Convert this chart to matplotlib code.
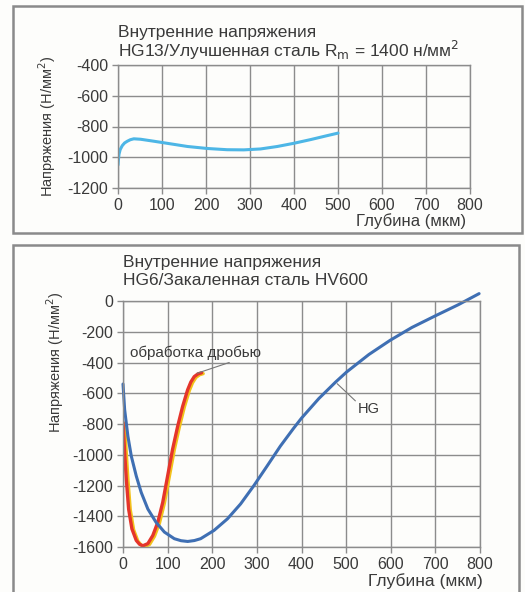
import matplotlib.pyplot as plt
import matplotlib.patheffects as pe
from matplotlib.patches import Rectangle

plt.rcParams['font.family'] = ['Liberation Sans', 'DejaVu Sans']
plt.rcParams['axes.unicode_minus'] = False

# Top chart: HG13 / improved steel
top_depth = [0, 1, 2.3, 5, 9.8, 15, 21, 28, 36, 51.5, 82, 120, 158, 203, 248, 286, 324, 362, 400, 438, 476, 500]
top_stress = [-1050, -1015, -980, -950, -924, -907, -896, -886, -880, -883, -896, -913, -930, -943, -951,
              -952, -946, -930, -909, -885, -859, -843]

# Bottom chart: HG6 / hardened steel
hg_depth = [0, 3.7, 11, 18.6, 29.7, 40.8, 55.7, 74, 92.8, 115, 130, 145, 160, 174, 204, 234, 263.5, 293,
            323, 352.6, 382, 400, 439, 476.5, 501, 551, 599, 647.5, 699.5, 751.5, 798]
hg_stress = [-540, -707, -880, -1009, -1138, -1245, -1353, -1439, -1503, -1546, -1559, -1564, -1558,
             -1546, -1492, -1417, -1320, -1202, -1073, -944, -829, -762, -634, -527, -462, -348, -255,
             -172, -97, -24, 48]

shot_depth = [0, 3.7, 7.4, 12.6, 20, 29.7, 37, 44.5, 55.7, 66.8, 78, 89, 100, 111, 122.5, 133.6, 144.8,
              152, 159.6, 168, 176]
shot_stress = [-790, -987, -1159, -1353, -1482, -1557, -1582, -1592, -1578, -1525, -1439, -1310, -1138,
               -966, -815, -686, -578, -527, -492, -474, -467]

x_ticks = [0, 100, 200, 300, 400, 500, 600, 700, 800]
top_yticks = [-400, -600, -800, -1000, -1200]
bot_yticks = [0, -200, -400, -600, -800, -1000, -1200, -1400, -1600]

W, H = 525, 592
grid_col = '#8c8c8c'
text_col = '#3a3a3a'
fs = 11.5


def fx(px):
    return px / W


def fy(py):
    return 1 - py / H


fig = plt.figure(figsize=(W / 100, H / 100), dpi=100)
fig.patch.set_facecolor('#fdfdfb')

# panel frames
fig.patches.append(Rectangle((fx(13), fy(233)), 509 / W, 227 / H, transform=fig.transFigure,
                             fill=False, edgecolor='#8a8a8a', lw=1.8))
fig.patches.append(Rectangle((fx(13), -0.05), 506 / W, fy(245) + 0.05, transform=fig.transFigure,
                             fill=False, edgecolor='#8a8a8a', lw=1.8))


def style_axes(ax, yticks):
    ax.set_facecolor('none')
    ax.set_xlim(0, 800)
    ax.set_ylim(min(yticks), max(yticks))
    ax.set_xticks(x_ticks)
    ax.set_yticks(yticks)
    ax.grid(True, color=grid_col, lw=1.0)
    for s in ax.spines.values():
        s.set_color(grid_col)
        s.set_linewidth(1.0)
    ax.tick_params(length=4, width=1.0, color=grid_col, labelsize=fs, labelcolor=text_col, pad=3)
    ax.set_axisbelow(True)


# top panel
ax1 = fig.add_axes([fx(118), fy(188), 352 / W, 123 / H])
style_axes(ax1, top_yticks)
ax1.plot(top_depth, top_stress, color='#4db6e6', lw=2.2, solid_capstyle='round')
fig.text(fx(118), fy(32), 'Внутренние напряжения', fontsize=12.5, color=text_col, va='center')
fig.text(fx(118), fy(50), 'HG13/Улучшенная сталь R$_\\mathrm{m}$ = 1400 н/мм$^2$', fontsize=12.5,
         color=text_col, va='center')
fig.text(fx(466), fy(221), 'Глубина (мкм)', fontsize=12, color=text_col, ha='right', va='center')
fig.text(fx(47), fy(126), 'Напряжения (Н/мм$^2$)', fontsize=10.5, color=text_col, rotation=90,
         ha='center', va='center')

# bottom panel
ax2 = fig.add_axes([fx(123), fy(547), 357 / W, 246 / H])
style_axes(ax2, bot_yticks)
ax2.plot(shot_depth, shot_stress, color='#e5352b', lw=2.4, solid_capstyle='round',
         path_effects=[pe.SimpleLineShadow(offset=(1.2, -0.6), shadow_color='#f2c21b', alpha=1),
                       pe.Normal()])
ax2.plot(hg_depth, hg_stress, color='#3f6fb3', lw=2.2, solid_capstyle='round', clip_on=False)
fig.text(fx(123), fy(262), 'Внутренние напряжения', fontsize=12.5, color=text_col, va='center')
fig.text(fx(123), fy(280), 'HG6/Закаленная сталь HV600', fontsize=12.5, color=text_col, va='center')
fig.text(fx(483), fy(581), 'Глубина (мкм)', fontsize=12.5, color=text_col, ha='right', va='center')
fig.text(fx(55), fy(362), 'Напряжения (Н/мм$^2$)', fontsize=10.5, color=text_col, rotation=90,
         ha='center', va='center')

# callouts
ax2.annotate('обработка дробью', xy=(166, -470), xytext=(16, -335), fontsize=11, color=text_col,
             va='center', arrowprops=dict(arrowstyle='-', color='#777777', lw=0.8,
                                          shrinkA=0, shrinkB=0, relpos=(0.82, 0)))
ax2.annotate('HG', xy=(480, -538), xytext=(527, -703), fontsize=10.5, color=text_col,
             va='center', arrowprops=dict(arrowstyle='-', color='#777777', lw=0.8,
                                          shrinkA=0, shrinkB=0, relpos=(0, 0.9)))

fig.savefig('out.png', dpi=100, facecolor=fig.get_facecolor())
